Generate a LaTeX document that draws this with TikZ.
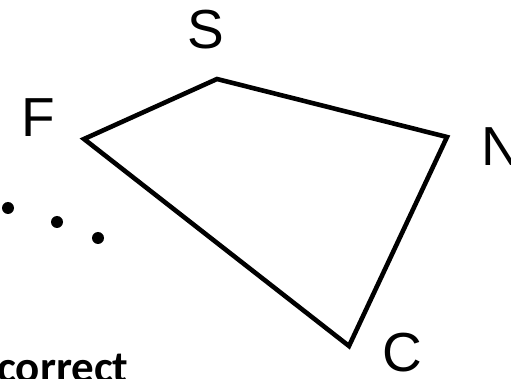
\documentclass[tikz,border=0pt]{standalone}
\usepackage{fontspec}
\setmainfont{Liberation Sans}
\newfontfamily\notefont{Carlito}
\usepackage{tikz}
\usetikzlibrary{
  positioning % 节点相对定位
}

\begin{document}
\begin{tikzpicture}[x=1pt, y=-1pt,
    vlabel/.style={inner sep=0pt, font=\fontsize{55}{55}\selectfont},
    edge/.style={black, line width=4.6pt, line join=miter}]
    % 画布范围
    \useasboundingbox (0,0) rectangle (511,379);

    % 顶点
    \coordinate (F) at (84,139);
    \coordinate (S) at (217,79);
    \coordinate (N) at (447,137);
    \coordinate (C) at (349,346);

    % 画四边形
    \draw[edge] (F) -- (S) -- (N) -- (C) -- cycle;

    % 顶点标注
    \node[vlabel] (sLabel) at (206,30) {S};
    \node[vlabel] (fLabel) at (38,118) {F};
    \node[vlabel, anchor=west] (nLabel) at (481,147) {N};
    \node[vlabel] (cLabel) at (402,353) {C};

    % 省略号
    \fill[black] (8,208) circle (6pt);
    \fill[black] (57,222) circle (6pt);
    \fill[black] (98,238) circle (6pt);

    % 文字
    \node[inner sep=0pt, anchor=base west,
      font=\notefont\bfseries\fontsize{45}{45}\selectfont] (note) at (-3,382) {correct};
  \end{tikzpicture}
\end{document}
